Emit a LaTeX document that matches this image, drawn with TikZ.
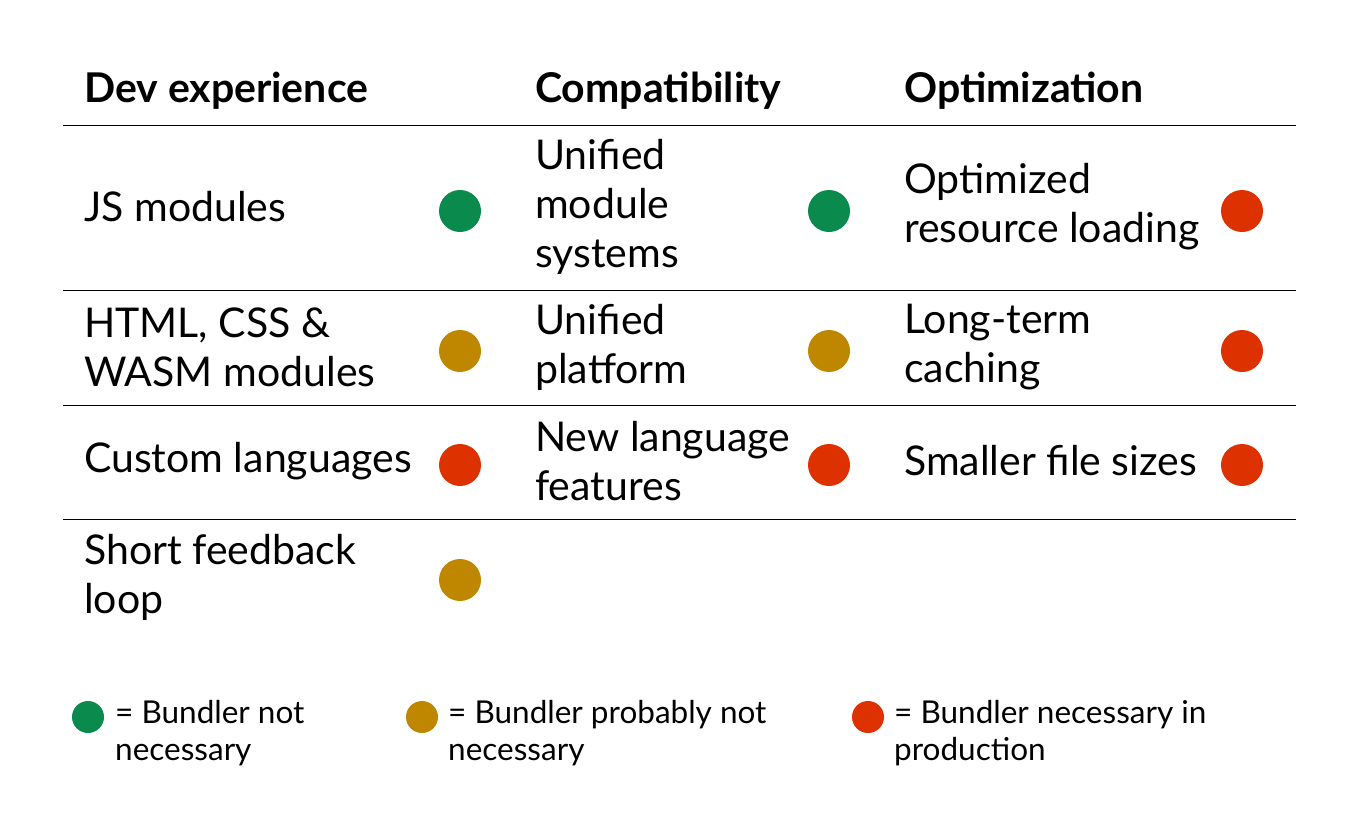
\documentclass[tikz,border=0pt]{standalone}
\usepackage{fontspec}
\setmainfont{Lato}
\definecolor{cgreen}{HTML}{0B8A4E}
\definecolor{cgold}{HTML}{BF8700}
\definecolor{cred}{HTML}{DD3100}
\begin{document}
\begin{tikzpicture}[x=1pt,y=-1pt,
  hd/.style={anchor=west,font=\fontsize{41}{48}\selectfont\bfseries,inner sep=0},
  cell/.style={anchor=west,align=left,font=\fontsize{41}{49}\selectfont,inner sep=0},
  leg/.style={anchor=north west,align=left,font=\fontsize{31.5}{37}\selectfont,inner sep=0},
  dot/.style={circle,minimum size=42pt,inner sep=0},
  ldot/.style={circle,minimum size=32pt,inner sep=0},
  rule/.style={line width=1pt}]
\useasboundingbox (0,0) rectangle (1356,830);
\fill[white] (0,0) rectangle (1356,830);
\node[hd] (h1) at (84,91) {Dev experience};
\node[hd] (h2) at (535,91) {Compatibility};
\node[hd] (h3) at (904,91) {Optimization};
\foreach \y/\n in {125/a,290/b,405/c,519/d}{
  \coordinate (l\n) at (63,\y); \coordinate (r\n) at (1296,\y);
  \draw[rule] (l\n) -- (r\n);}
\node[cell] (c11) at (84,207) {JS modules};
\node[cell] (c12) at (535,207) {Unified\\module\\systems};
\node[cell] (c13) at (904,207) {Optimized\\resource loading};
\node[cell] (c21) at (84,347) {HTML, CSS \&\\WASM modules};
\node[cell] (c22) at (535,347) {Unified\\platform};
\node[cell] (c23) at (904,347) {Long-term\\caching};
\node[cell] (c31) at (84,461) {Custom languages};
\node[cell] (c32) at (535,461) {New language\\features};
\node[cell] (c33) at (904,461) {Smaller file sizes};
\node[cell] (c41) at (84,577) {Short feedback\\loop};
\node[dot,fill=cgreen] (d11) at (460,211) {};
\node[dot,fill=cgreen] (d12) at (829,211) {};
\node[dot,fill=cred] (d13) at (1242,211) {};
\node[dot,fill=cgold] (d21) at (460,351) {};
\node[dot,fill=cgold] (d22) at (829,351) {};
\node[dot,fill=cred] (d23) at (1242,351) {};
\node[dot,fill=cred] (d31) at (460,465) {};
\node[dot,fill=cred] (d32) at (829,465) {};
\node[dot,fill=cred] (d33) at (1242,465) {};
\node[dot,fill=cgold] (d41) at (460,580) {};
\node[ldot,fill=cgreen] (g1) at (88,717) {};
\node[ldot,fill=cgold] (g2) at (422,717) {};
\node[ldot,fill=cred] (g3) at (868,717) {};
\node[leg] (t1) at (115,700) {= Bundler not\\necessary};
\node[leg] (t2) at (448,700) {= Bundler probably not\\necessary};
\node[leg] (t3) at (894,700) {= Bundler necessary in\\production};
\end{tikzpicture}
\end{document}
